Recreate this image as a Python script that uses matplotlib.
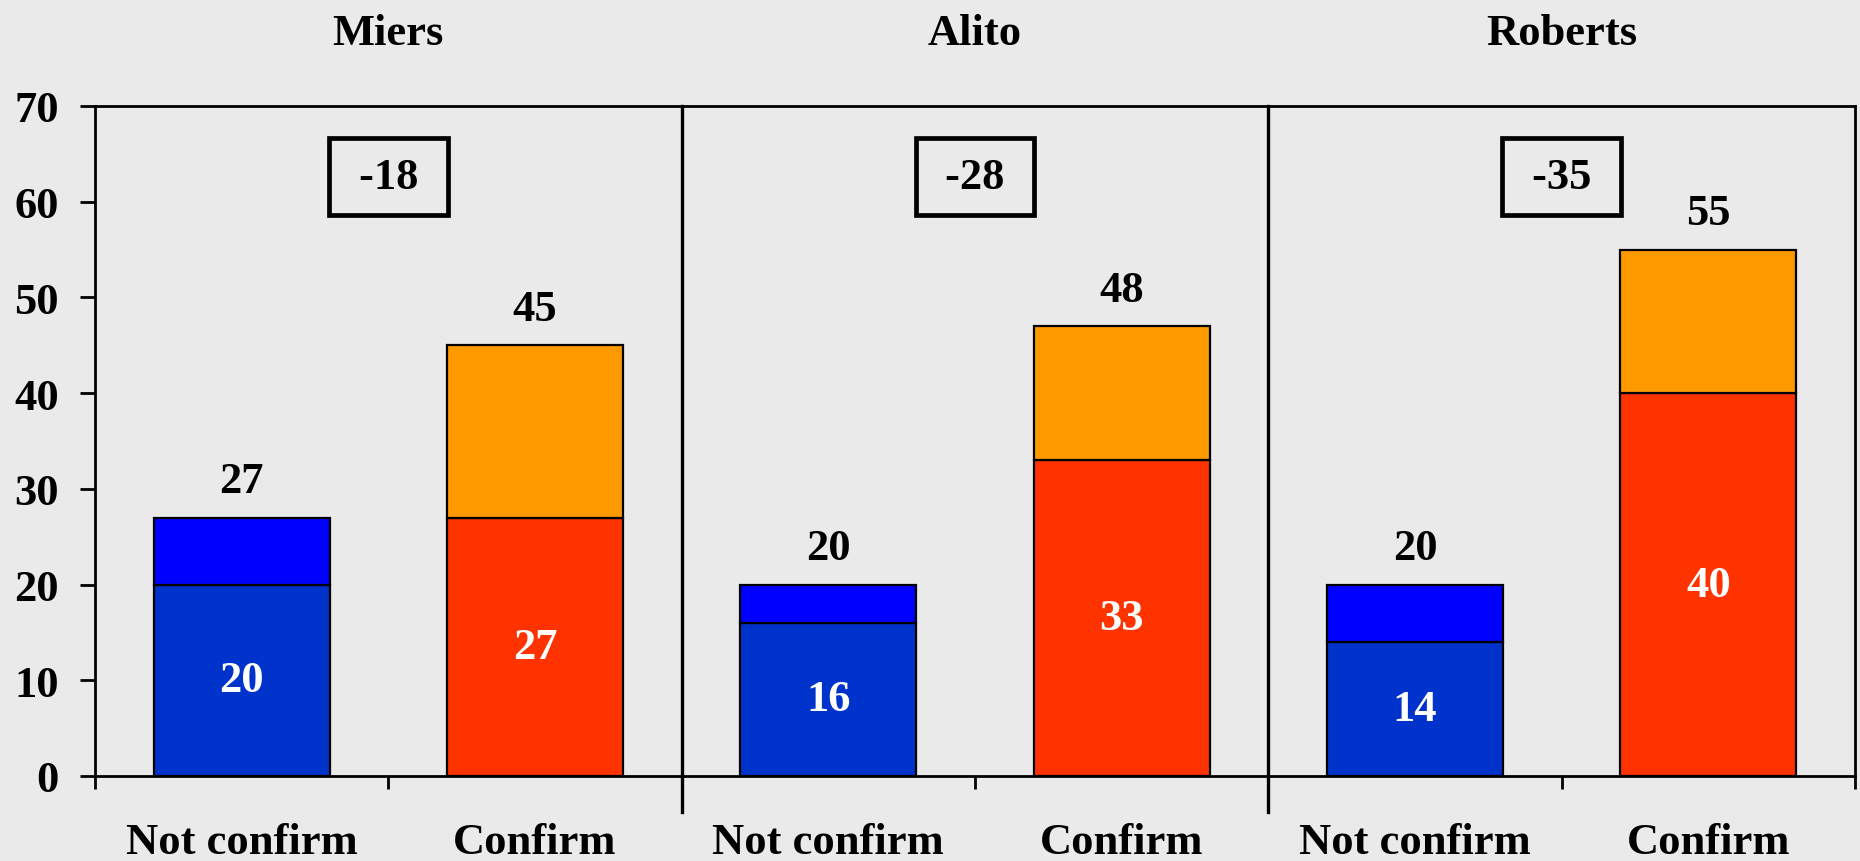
import matplotlib
matplotlib.use("Agg")
import matplotlib.pyplot as plt
import matplotlib.transforms as mtransforms
import numpy as np

plt.rcParams['font.family'] = ['Liberation Serif', 'DejaVu Serif']
plt.rcParams['font.weight'] = 'bold'

nominees = ["Miers", "Alito", "Roberts"]
categories = ["Not confirm", "Confirm"]
# lower (strong) segment and upper (weak) segment for each bar, in order
# Miers NC, Miers C, Alito NC, Alito C, Roberts NC, Roberts C
lower_vals = [20, 27, 16, 33, 14, 40]
upper_vals = [7, 18, 4, 14, 6, 15]
total_labels = ["27", "45", "20", "48", "20", "55"]
net_labels = ["-18", "-28", "-35"]
y_ticks = [0, 10, 20, 30, 40, 50, 60, 70]

bg = "#EAEAEA"
lower_colors = ["#0033CC", "#FF3300"]
upper_colors = ["#0000FF", "#FF9900"]

fig = plt.figure(figsize=(18.6, 8.62), dpi=100, facecolor=bg)
ax = fig.add_axes([95/1860, 1 - 777/862, (1855 - 95)/1860, (777 - 107)/862])
ax.set_facecolor(bg)

n = len(lower_vals)
x = np.arange(n)
width = 0.6
lower = np.array(lower_vals)
upper = np.array(upper_vals)
lc = [lower_colors[i % 2] for i in range(n)]
uc = [upper_colors[i % 2] for i in range(n)]

ax.bar(x, lower, width, color=lc, edgecolor="black", linewidth=1.6, zorder=3)
ax.bar(x, upper, width, bottom=lower, color=uc, edgecolor="black", linewidth=1.6, zorder=3)

fs = 32
for i in range(n):
    ax.text(x[i], lower[i] / 2, str(lower_vals[i]), ha="center", va="center",
            color="white", fontsize=fs, fontweight="bold", zorder=4)
    ax.text(x[i], lower[i] + upper[i] + 3.8, total_labels[i], ha="center", va="center",
            color="black", fontsize=fs, fontweight="bold", zorder=4)

ax.set_xlim(-0.5, n - 0.5)
ax.set_ylim(0, 70)
ax.set_yticks(y_ticks)
ax.set_yticklabels([str(v) for v in y_ticks], fontsize=fs, fontweight="bold")
ax.set_xticks(np.arange(-0.5, n, 1.0))
ax.set_xticklabels([])
ax.tick_params(axis="y", direction="out", length=11, width=2, pad=15)
ax.tick_params(axis="x", direction="out", length=9, width=2)

for s in ax.spines.values():
    s.set_linewidth(2)
    s.set_color("black")

trans = mtransforms.blended_transform_factory(ax.transData, ax.transAxes)
# category labels
for i in range(n):
    ax.text(x[i], -0.098, categories[i % 2], transform=trans, ha="center", va="center",
            fontsize=fs, fontweight="bold")

# group separators, titles and net boxes
for g, name in enumerate(nominees):
    cx = 2 * g + 0.5
    ax.text(cx, 1.109, name, transform=trans, ha="center", va="center",
            fontsize=fs, fontweight="bold")
    ax.text(cx, 62.6, " " + net_labels[g] + " ", ha="center", va="center",
            fontsize=fs, fontweight="bold", zorder=5,
            bbox=dict(boxstyle="square,pad=0.42", facecolor=bg, edgecolor="black", linewidth=3.4))
    if g > 0:
        ax.plot([2 * g - 0.5, 2 * g - 0.5], [-0.054, 1.0], transform=trans,
                color="black", linewidth=2.4, clip_on=False, zorder=2)

fig.savefig("out.png", dpi=100, facecolor=bg)
